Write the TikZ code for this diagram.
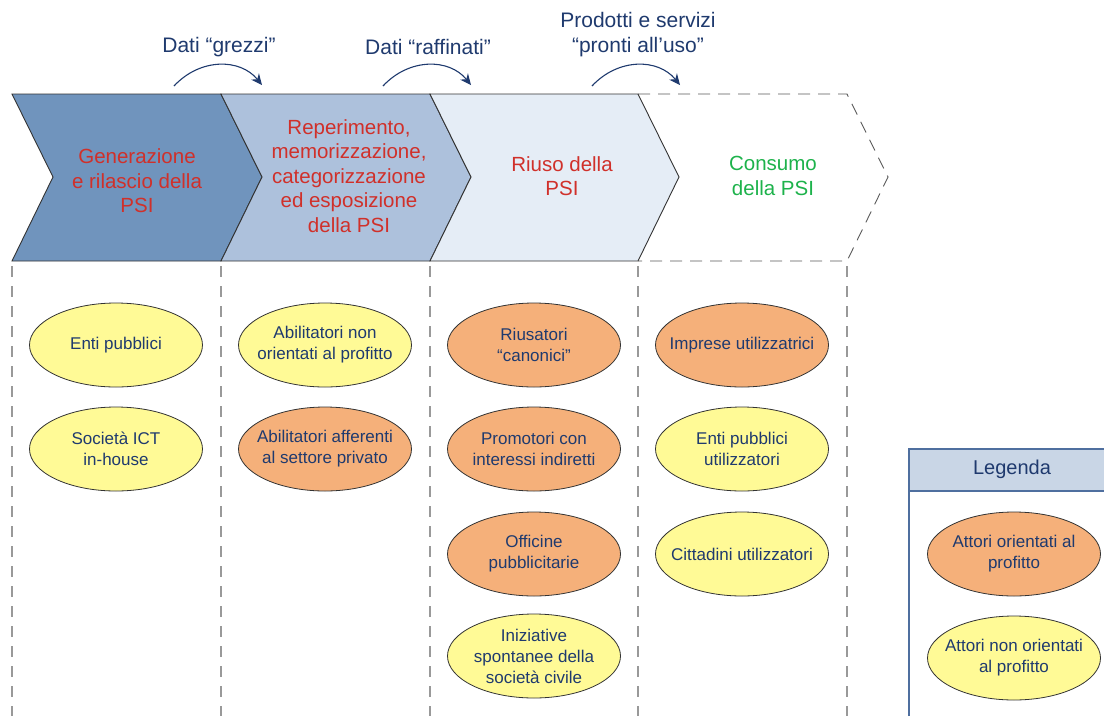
\documentclass[tikz,border=0pt]{standalone}
\usepackage{fontspec}
\setmainfont{Liberation Sans}
\usetikzlibrary{shapes.geometric,arrows.meta}

\definecolor{navy}{HTML}{1F3A6E}
\definecolor{psired}{HTML}{D0302A}
\definecolor{psigreen}{HTML}{1DB24B}
\definecolor{chev1}{HTML}{7094BD}
\definecolor{chev2}{HTML}{ADC1DC}
\definecolor{chev3}{HTML}{E5EDF6}
\definecolor{actyel}{HTML}{FFFA96}
\definecolor{actora}{HTML}{F5B07A}
\definecolor{legline}{HTML}{4F6F9F}
\definecolor{leghead}{HTML}{C9D6E6}

% un acteur = ellipse + texte
\newcommand{\actor}[4]{%
  \node[actorbox,fill=#3] (#1) at (#2) {};
  \node[actortext] at (#1) {#4};}

\begin{document}
\begin{tikzpicture}[x=1pt,y=-1pt,
  chevron/.style={draw=black!80,line width=0.9pt},
  phase/.style={text=psired,align=center,font=\fontsize{20.5}{24.5}\selectfont},
  flow/.style={text=navy,align=center,font=\fontsize{21}{25}\selectfont},
  flowarrow/.style={draw=navy,line width=1.1pt,-{Stealth[length=11pt,width=10pt]}},
  colline/.style={draw=black!40,line width=1.4pt,dash pattern=on 11pt off 9pt},
  actorbox/.style={ellipse,draw=black!80,line width=0.8pt,minimum width=173pt,minimum height=84pt,inner sep=0pt},
  actortext/.style={text=navy,align=center,font=\fontsize{17}{21}\selectfont}]
\useasboundingbox (0,0) rectangle (1104,716);

\fill[chev1] (12,94) -- (221,94) -- (262,177) -- (221,261) -- (12,261) -- (53,177) -- cycle;
\draw[chevron] (12,94) -- (221,94) -- (262,177) -- (221,261) -- (12,261) -- (53,177) -- cycle;
\fill[chev2] (221,94) -- (430,94) -- (471,177) -- (430,261) -- (221,261) -- (262,177) -- cycle;
\draw[chevron] (221,94) -- (430,94) -- (471,177) -- (430,261) -- (221,261) -- (262,177) -- cycle;
\fill[chev3] (430,94) -- (638,94) -- (679,177) -- (638,261) -- (430,261) -- (471,177) -- cycle;
\draw[chevron] (430,94) -- (638,94) -- (679,177) -- (638,261) -- (430,261) -- (471,177) -- cycle;
\draw[draw=black!65,line width=0.9pt,dash pattern=on 12pt off 8pt]
  (638,94) -- (847,94) -- (888,177) -- (847,261) -- (638,261);

\node[phase] (gen) at (137,181) {Generazione\\e rilascio della\\PSI};
\node[phase] (rep) at (349,176) {Reperimento,\\memorizzazione,\\categorizzazione\\ed esposizione\\della PSI};
\node[phase] (riuso) at (562,176) {Riuso della\\PSI};
\node[phase,text=psigreen] (consumo) at (773,176) {Consumo\\della PSI};

\node[flow] (grezzi) at (219,47) {Dati “grezzi”};
\node[flow] (raffinati) at (428,47) {Dati “raffinati”};
\node[flow] (pronti) at (638,34.5) {Prodotti e servizi\\“pronti all’uso”};

\coordinate (g1) at (174,86);
\coordinate (g2) at (262,85);
\coordinate (r1) at (383,86);
\coordinate (r2) at (471,85);
\coordinate (p1) at (592,86);
\coordinate (p2) at (680,85);
\draw[flowarrow] (g1) .. controls (200,58) and (240,58) .. (g2);
\draw[flowarrow] (r1) .. controls (409,58) and (449,58) .. (r2);
\draw[flowarrow] (p1) .. controls (618,58) and (658,58) .. (p2);

\foreach \x in {12,221,430,638,847}
  \draw[colline] (\x,266) -- (\x,716);

\actor{enti}{116,345}{actyel}{Enti pubblici}
\actor{societa}{116,449}{actyel}{Società ICT\\in-house}
\actor{abilnp}{325,345}{actyel}{Abilitatori non\\orientati al profitto}
\actor{abilpriv}{325,449}{actora}{Abilitatori afferenti\\al settore privato}
\actor{riusatori}{534,345}{actora}{Riusatori\\“canonici”}
\actor{promotori}{534,449}{actora}{Promotori con\\interessi indiretti}
\actor{officine}{534,554}{actora}{Officine\\pubblicitarie}
\actor{iniziative}{534,656}{actyel}{Iniziative\\spontanee della\\società civile}
\actor{imprese}{742,345}{actora}{Imprese utilizzatrici}
\actor{entiutil}{742,449}{actyel}{Enti pubblici\\utilizzatori}
\actor{cittadini}{742,554}{actyel}{Cittadini utilizzatori}

% legenda
\fill[leghead] (909,449) rectangle (1104,491);
\draw[legline,line width=1.2pt] (909,716) -- (909,449) -- (1104,449);
\draw[legline,line width=1.2pt] (909,491) -- (1104,491);
\node[flow,font=\fontsize{20}{24}\selectfont] (legenda) at (1012,469) {Legenda};
\actor{legprof}{1014,554}{actora}{Attori orientati al\\profitto}
\actor{legnonprof}{1014,658}{actyel}{Attori non orientati\\al profitto}
\end{tikzpicture}
\end{document}
